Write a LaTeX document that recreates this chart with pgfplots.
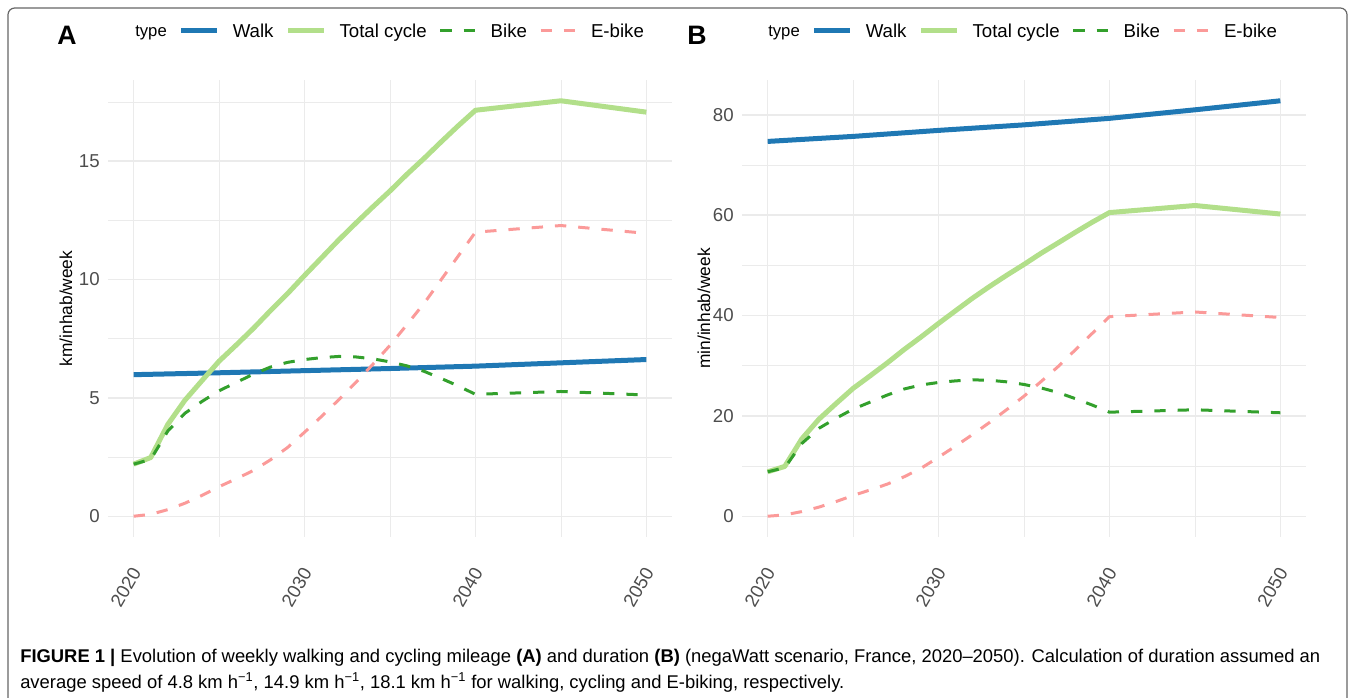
\documentclass[border=0pt]{standalone}
\usepackage{fontspec}
\setmainfont{Liberation Sans}
\usepackage{pgfplots}
\usepackage{pgfplotstable}
\pgfplotsset{compat=1.18}
\definecolor{cwalk}{HTML}{1F78B4}
\definecolor{ctot}{HTML}{B2DF8A}
\definecolor{cbike}{HTML}{33A02C}
\definecolor{cebike}{HTML}{FB9A99}
\definecolor{gridc}{HTML}{EBEBEB}
\definecolor{tickc}{HTML}{4D4D4D}

% Panel A: km/inhab/week
\pgfplotstableread{
year walk
2020 5.98
2025 6.06
2030 6.15
2035 6.24
2040 6.34
2045 6.48
2050 6.62
}\walkA
\pgfplotstableread{
year bike ebike total
2020 2.20 0.00 2.20
2021 2.40 0.08 2.48
2022 3.60 0.28 3.88
2023 4.35 0.55 4.90
2024 4.85 0.88 5.73
2025 5.30 1.25 6.55
2026 5.65 1.58 7.23
2027 6.00 1.93 7.93
2028 6.30 2.38 8.68
2029 6.50 2.90 9.40
2030 6.62 3.55 10.17
2031 6.70 4.22 10.92
2032 6.75 4.92 11.67
2033 6.73 5.65 12.38
2034 6.65 6.42 13.07
2035 6.52 7.22 13.74
2036 6.35 8.10 14.45
2037 6.12 9.00 15.12
2038 5.82 10.00 15.82
2039 5.50 11.00 16.50
2040 5.15 12.00 17.15
2045 5.27 12.28 17.55
2050 5.12 11.95 17.07
}\cycleA

% Panel B: min/inhab/week
\pgfplotstableread{
year walk
2020 74.7
2025 75.7
2030 76.9
2035 78.0
2040 79.3
2045 81.0
2050 82.8
}\walkB
\pgfplotstableread{
year bike ebike total
2020 8.86 0.00 8.86
2021 9.66 0.27 9.93
2022 14.50 0.93 15.43
2023 17.52 1.82 19.34
2024 19.53 2.92 22.45
2025 21.34 4.14 25.48
2026 22.75 5.24 27.99
2027 24.16 6.40 30.56
2028 25.37 7.89 33.26
2029 26.18 9.61 35.79
2030 26.66 11.77 38.43
2031 26.98 13.99 40.97
2032 27.18 16.31 43.49
2033 27.10 18.73 45.83
2034 26.78 21.28 48.06
2035 26.26 23.93 50.19
2036 25.57 26.85 52.42
2037 24.65 29.84 54.49
2038 23.44 33.15 56.59
2039 22.15 36.47 58.62
2040 20.74 39.78 60.52
2045 21.22 40.71 61.93
2050 20.62 39.61 60.23
}\cycleB

\pgfplotsset{
  panel/.style={
    scale only axis, width=423pt, height=342.75pt, anchor=south west,
    xmin=2018.5, xmax=2051.5,
    xtick={2020,2030,2040,2050}, minor xtick={2025,2035,2045},
    grid=both,
    major grid style={gridc, line width=1.1pt},
    minor grid style={gridc, line width=0.6pt},
    axis line style={draw=none},
    major tick length=0pt, minor tick length=0pt,
    /pgf/number format/assume math mode=true,
    /pgf/number format/1000 sep={},
    xticklabel style={font=\fontsize{14}{16}\selectfont, text=tickc, inner sep=0pt,
      yshift=-24pt, xshift=2pt, rotate=60, anchor=east},
    yticklabel style={font=\fontsize{14}{16}\selectfont, text=tickc, inner sep=0pt, xshift=-6pt},
    legend columns=-1,
    legend cell align=left,
    legend style={draw=none, fill=none, inner sep=0pt, anchor=west,
      font=\fontsize{14}{16}\selectfont,
      nodes={inner sep=0pt}, column sep=0pt},
    legend image code/.code={%
      \path (-9pt,0.8pt) (36.75pt,0.8pt);
      \draw[##1] (0pt,0.8pt) -- (27pt,0.8pt);},
  },
  walkst/.style={cwalk, line width=3.75pt, line join=round},
  totst/.style={ctot, line width=3.75pt, line join=round},
  bikest/.style={cbike, line width=2.25pt, dash pattern=on 8.5pt off 9pt, line join=round},
  ebikest/.style={cebike, line width=2.25pt, dash pattern=on 8.5pt off 9pt, line join=round},
}

\begin{document}
\begin{tikzpicture}
\useasboundingbox (0,0) rectangle (1016.25pt,-522.75pt);
\draw[black!60, line width=0.9pt, rounded corners=5pt] (6pt,-6pt) rectangle (1010.25pt,-560pt);

\begin{axis}[panel, at={(81pt,-402.75pt)},
  ymin=-0.8775, ymax=18.4275,
  ytick={0,5,10,15}, minor ytick={2.5,7.5,12.5,17.5},
  ylabel={km/inhab/week},
  every axis y label/.style={at={(axis description cs:-0.0745,0.5)}, anchor=center, rotate=90,
    font=\fontsize{13}{15}\selectfont},
  legend style={at={(axis description cs:0.0479,1.105)}}]
\addlegendimage{empty legend}
\addlegendentry{\fontsize{12.5}{14}\selectfont type\hspace{3pt}}
\addplot[walkst] table[x=year,y=walk] {\walkA};
\addlegendentry{Walk}
\addplot[totst] table[x=year,y=total] {\cycleA};
\addlegendentry{Total cycle}
\addplot[bikest] table[x=year,y=bike] {\cycleA};
\addlegendentry{Bike}
\addplot[ebikest] table[x=year,y=ebike] {\cycleA};
\addlegendentry{E-bike}
\end{axis}

\begin{axis}[panel, at={(556.5pt,-402.75pt)},
  ymin=-4.14, ymax=86.94,
  ytick={0,20,40,60,80}, minor ytick={10,30,50,70},
  ylabel={min/inhab/week},
  every axis y label/.style={at={(axis description cs:-0.0674,0.5)}, anchor=center, rotate=90,
    font=\fontsize{13}{15}\selectfont},
  legend style={at={(axis description cs:0.0461,1.105)}}]
\addlegendimage{empty legend}
\addlegendentry{\fontsize{12.5}{14}\selectfont type\hspace{3pt}}
\addplot[walkst] table[x=year,y=walk] {\walkB};
\addlegendentry{Walk}
\addplot[totst] table[x=year,y=total] {\cycleB};
\addlegendentry{Total cycle}
\addplot[bikest] table[x=year,y=bike] {\cycleB};
\addlegendentry{Bike}
\addplot[ebikest] table[x=year,y=ebike] {\cycleB};
\addlegendentry{E-bike}
\end{axis}

\node[font=\fontsize{20}{22}\selectfont\bfseries, inner sep=0pt] at (50.25pt,-26.25pt) {A};
\node[font=\fontsize{20}{22}\selectfont\bfseries, inner sep=0pt] at (522.75pt,-26.25pt) {B};

\node[anchor=base west, inner sep=0pt, font=\fontsize{13.8}{16}\selectfont] at (15pt,-496.5pt)
  {\textbf{FIGURE 1 |} Evolution of weekly walking and cycling mileage \textbf{(A)} and duration \textbf{(B)} (negaWatt scenario, France, 2020–2050). Calculation of duration assumed an};
\node[anchor=base west, inner sep=0pt, font=\fontsize{13.8}{16}\selectfont] at (15pt,-516pt)
  {average speed of 4.8 km h\textsuperscript{−1}, 14.9 km h\textsuperscript{−1}, 18.1 km h\textsuperscript{−1} for walking, cycling and E-biking, respectively.};
\end{tikzpicture}
\end{document}
